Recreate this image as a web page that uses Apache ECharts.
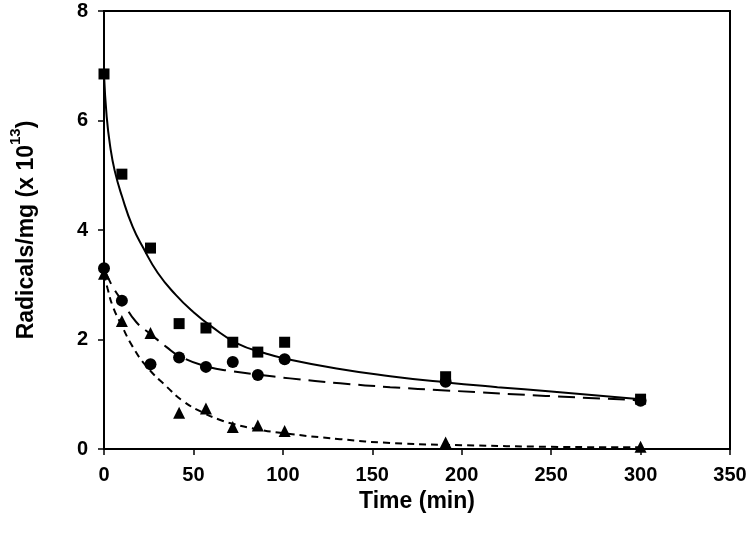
<!DOCTYPE html>
<html>
<head>
<meta charset="utf-8">
<script src="https://cdn.jsdelivr.net/npm/echarts@6/dist/echarts.min.js"></script>
<style>html,body{margin:0;padding:0;background:#fff}#c{width:750px;height:536px}</style>
</head>
<body>
<div id="c"></div>
<script>
// measured points
var timePts = [0, 10, 26, 42, 57, 72, 86, 101, 191, 300];
var squares = [6.85, 5.02, 3.67, 2.29, 2.21, 1.95, 1.77, 1.95, 1.32, 0.91];
var circles = [3.30, 2.71, 1.55, 1.67, 1.50, 1.59, 1.35, 1.64, 1.23, 0.88];
var triangles = [3.20, 2.34, 2.12, 0.66, 0.74, 0.40, 0.43, 0.33, 0.12, 0.04];

// fitted curves
var fitSqT = [0, 1.5, 3.5, 6, 10, 16, 22, 30, 40, 50, 60, 75, 90, 100, 130, 160, 190, 220, 250, 300];
var fitSqV = [6.85, 6.07, 5.52, 5.08, 4.62, 4.06, 3.67, 3.22, 2.82, 2.5, 2.24, 1.92, 1.75, 1.66, 1.47, 1.33, 1.22, 1.13, 1.05, 0.91];
var fitCiT = [0, 3, 6, 10, 18, 26, 35, 42, 57, 72, 86, 104, 132, 160, 191, 247, 300];
var fitCiV = [3.3, 3.08, 2.9, 2.71, 2.32, 2.1, 1.86, 1.7, 1.51, 1.42, 1.36, 1.29, 1.2, 1.13, 1.07, 0.97, 0.89];
var fitTrT = [0, 2, 5, 10, 16, 24, 35, 44, 55, 65, 72, 86, 100, 132, 160, 200, 250, 300];
var fitTrV = [3.2, 2.93, 2.6, 2.25, 1.87, 1.5, 1.14, 0.88, 0.67, 0.53, 0.46, 0.36, 0.29, 0.18, 0.11, 0.07, 0.04, 0.03];

var xTitle = 'Time (min)';
var yTitleMain = 'Radicals/mg (x 10';
var yTitleSup = '13';

function pairs(t, v) { return t.map(function (x, i) { return [x, v[i]]; }); }

var FONT = '"Liberation Sans", Arial, sans-serif';
var chart = echarts.init(document.getElementById('c'), null, {renderer: 'canvas'});
chart.setOption({
  animation: false,
  backgroundColor: '#fff',
  grid: {left: 104, right: 20, top: 11, bottom: 87, show: true, borderColor: '#000', borderWidth: 2},
  xAxis: {
    type: 'value', min: 0, max: 350, interval: 50,
    name: xTitle, nameLocation: 'middle', nameGap: 39,
    nameTextStyle: {fontFamily: FONT, fontWeight: 'bold', fontSize: 23, color: '#000'},
    axisLine: {show: true, lineStyle: {color: '#000', width: 2}},
    axisTick: {show: true, inside: false, length: 6, lineStyle: {color: '#000', width: 1.5}},
    axisLabel: {fontFamily: FONT, fontWeight: 'bold', fontSize: 20, color: '#000', margin: 16},
    splitLine: {show: false}
  },
  yAxis: {
    type: 'value', min: 0, max: 8, interval: 2,
    name: '{m|' + yTitleMain + '}{s|' + yTitleSup + '}{m|)}',
    nameLocation: 'middle', nameGap: 66, nameRotate: 90,
    nameTextStyle: {
      color: '#000',
      rich: {
        m: {fontFamily: FONT, fontWeight: 'bold', fontSize: 23, color: '#000', lineHeight: 30, verticalAlign: 'bottom'},
        s: {fontFamily: FONT, fontWeight: 'bold', fontSize: 15, color: '#000', lineHeight: 30, verticalAlign: 'top'}
      }
    },
    axisLine: {show: true, lineStyle: {color: '#000', width: 2}},
    axisTick: {show: true, inside: false, length: 6, lineStyle: {color: '#000', width: 1.5}},
    axisLabel: {fontFamily: FONT, fontWeight: 'bold', fontSize: 20, color: '#000', margin: 16},
    splitLine: {show: false}
  },
  series: [
    {type: 'line', data: pairs(fitSqT, fitSqV), showSymbol: false, smooth: 0.5,
     lineStyle: {color: '#000', width: 2, type: 'solid'}, z: 2},
    {type: 'line', data: pairs(fitCiT, fitCiV), showSymbol: false, smooth: 0.5,
     lineStyle: {color: '#000', width: 2, type: [17, 8]}, z: 2},
    {type: 'line', data: pairs(fitTrT, fitTrV), showSymbol: false, smooth: 0.5,
     lineStyle: {color: '#000', width: 2, type: [7, 5]}, z: 2},
    {type: 'scatter', data: pairs(timePts, squares), symbol: 'rect', symbolSize: 11,
     itemStyle: {color: '#000', opacity: 1}, z: 3},
    {type: 'scatter', data: pairs(timePts, circles), symbol: 'circle', symbolSize: 12,
     itemStyle: {color: '#000', opacity: 1}, z: 3},
    {type: 'scatter', data: pairs(timePts, triangles), symbol: 'triangle', symbolSize: 12,
     itemStyle: {color: '#000', opacity: 1}, z: 3}
  ]
});
</script>
</body>
</html>
